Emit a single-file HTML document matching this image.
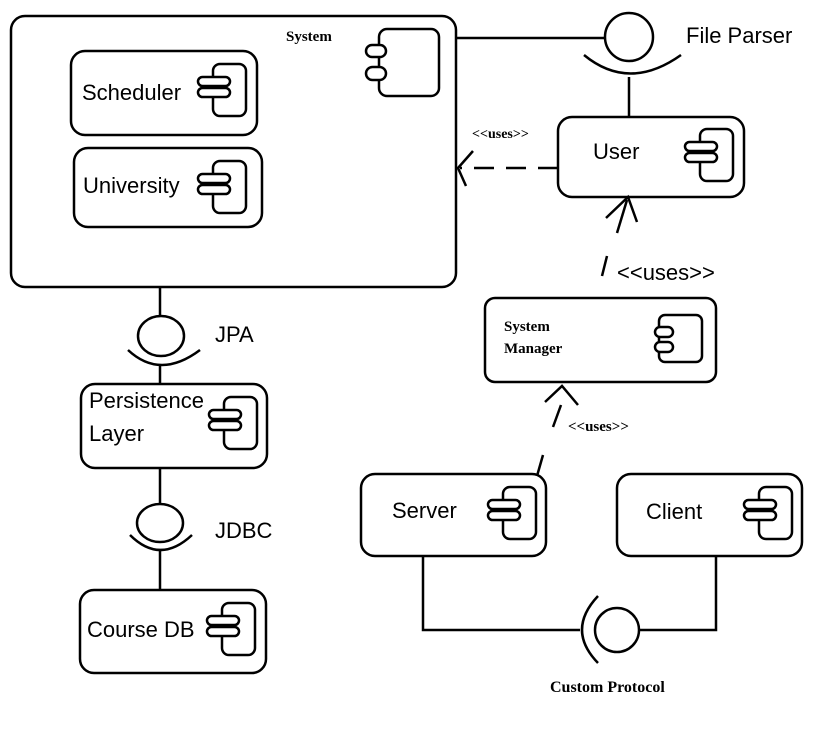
<!DOCTYPE html>
<html><head><meta charset="utf-8"><style>
html,body{margin:0;padding:0;background:#fff;}
svg{display:block}
.s{font-family:"Liberation Sans",sans-serif;font-size:22px;fill:#000}
.b{font-family:"Liberation Serif",serif;font-weight:bold;fill:#000}
</style></head><body>
<svg width="819" height="729" viewBox="0 0 819 729" xmlns="http://www.w3.org/2000/svg" fill="none" stroke="#000" stroke-width="2.5">
<defs>
<g id="ic">
<rect x="0" y="0" width="33" height="52" rx="7"/>
<rect x="-15" y="13" width="32" height="9" rx="4.5" fill="#fff"/>
<rect x="-15" y="24" width="32" height="9" rx="4.5" fill="#fff"/>
</g>
</defs>
<!-- System -->
<rect x="11" y="16" width="445" height="271" rx="14"/>
<text x="286" y="41" class="b" font-size="15" stroke="none">System</text>
<rect x="379" y="29" width="60" height="67" rx="8"/>
<rect x="366" y="45" width="20" height="12" rx="6" fill="#fff"/>
<rect x="366" y="67" width="20" height="13" rx="6.5" fill="#fff"/>
<rect x="71" y="51" width="186" height="84" rx="14"/>
<text x="82" y="100" class="s" stroke="none">Scheduler</text>
<use href="#ic" x="213" y="64"/>
<rect x="74" y="148" width="188" height="79" rx="14"/>
<text x="83" y="193" class="s" stroke="none">University</text>
<use href="#ic" x="213" y="161"/>
<!-- File Parser -->
<line x1="456" y1="38" x2="604" y2="38"/>
<circle cx="629" cy="37" r="24"/>
<path d="M584,55 Q629,92 681,55"/>
<line x1="629" y1="77" x2="629" y2="117"/>
<text x="686" y="43" class="s" stroke="none">File Parser</text>
<!-- User -->
<rect x="558" y="117" width="186" height="80" rx="14"/>
<text x="593" y="159" class="s" stroke="none">User</text>
<use href="#ic" x="700" y="129"/>
<line x1="558" y1="168" x2="460" y2="168" stroke-dasharray="20,12"/>
<polyline points="473,151 458,168 466,186"/>
<text x="472" y="138" class="b" font-size="14" stroke="none">&lt;&lt;uses&gt;&gt;</text>
<!-- user arrow -->
<polyline points="606,218 628,197 637,222"/>
<line x1="627" y1="200" x2="617" y2="233"/>
<line x1="607" y1="256" x2="602" y2="276"/>
<text x="617" y="280" class="s" font-size="20" stroke="none">&lt;&lt;uses&gt;&gt;</text>
<!-- System Manager -->
<rect x="485" y="298" width="231" height="84" rx="10"/>
<text x="504" y="331" class="b" font-size="15" stroke="none">System</text>
<text x="504" y="353" class="b" font-size="15" stroke="none">Manager</text>
<g transform="translate(659,315)"><rect x="0" y="0" width="43" height="47" rx="6"/><rect x="-4" y="12" width="18" height="10" rx="5" fill="#fff"/><rect x="-4" y="27" width="18" height="10" rx="5" fill="#fff"/></g>
<polyline points="545,402 562,386 578,405"/>
<line x1="561" y1="405" x2="553" y2="427"/>
<line x1="543" y1="455" x2="537" y2="476"/>
<text x="568" y="431" class="b" font-size="15" stroke="none">&lt;&lt;uses&gt;&gt;</text>
<!-- Server/Client -->
<rect x="361" y="474" width="185" height="82" rx="14"/>
<text x="392" y="518" class="s" stroke="none">Server</text>
<use href="#ic" x="503" y="487"/>
<rect x="617" y="474" width="185" height="82" rx="14"/>
<text x="646" y="519" class="s" stroke="none">Client</text>
<use href="#ic" x="759" y="487"/>
<polyline points="423,556 423,630 580,630"/>
<path d="M598,596 Q566,630 598,663"/>
<circle cx="617" cy="630" r="22"/>
<polyline points="639,630 716,630 716,556"/>
<text x="550" y="692" class="b" font-size="16" stroke="none">Custom Protocol</text>
<!-- left stack -->
<line x1="160" y1="287" x2="160" y2="317"/>
<ellipse cx="161" cy="336" rx="23" ry="20"/>
<path d="M128,350 Q160,380 200,350"/>
<line x1="160" y1="366" x2="160" y2="384"/>
<text x="215" y="342" class="s" stroke="none">JPA</text>
<rect x="81" y="384" width="186" height="84" rx="14"/>
<text x="89" y="408" class="s" stroke="none">Persistence</text>
<text x="89" y="441" class="s" stroke="none">Layer</text>
<use href="#ic" x="224" y="397"/>
<line x1="160" y1="468" x2="160" y2="505"/>
<ellipse cx="160" cy="523" rx="23" ry="19"/>
<path d="M130,535 Q160,565 192,535"/>
<line x1="160" y1="551" x2="160" y2="590"/>
<text x="215" y="538" class="s" stroke="none">JDBC</text>
<rect x="80" y="590" width="186" height="83" rx="14"/>
<text x="87" y="637" class="s" stroke="none">Course DB</text>
<use href="#ic" x="222" y="603"/>
</svg>
</body></html>
